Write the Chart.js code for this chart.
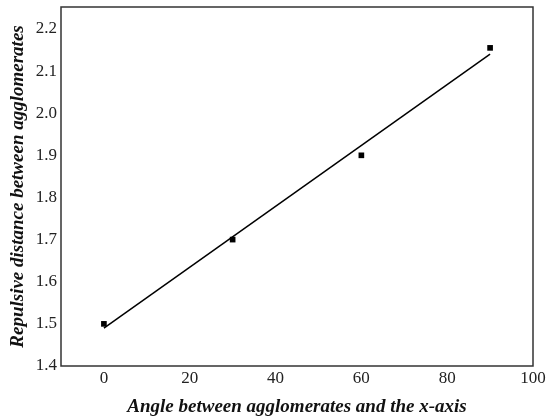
<!DOCTYPE html>
<html>
<head>
<meta charset="utf-8">
<script src="https://cdn.jsdelivr.net/npm/chart.js@4/dist/chart.umd.min.js"></script>
<style>
  html, body { margin: 0; padding: 0; background: #fff; }
  #wrap { width: 550px; height: 418px; }
</style>
</head>
<body>
<div id="wrap"><canvas id="chart"></canvas></div>
<script>
// measured points
const angles = [0, 30, 60, 90];
const distances = [1.5, 1.7, 1.9, 2.155];

// fitted line at both ends
const fitAngles = [0, 90];
const fitDistances = [1.49, 2.14];

const xTicks = [0, 20, 40, 60, 80, 100];
const yTicks = [1.4, 1.5, 1.6, 1.7, 1.8, 1.9, 2.0, 2.1, 2.2];

const serif = "'Liberation Serif', 'Times New Roman', serif";

// box round the plot area
const frame = {
    id: "frame",
    afterDraw(chart) {
        const a = chart.chartArea;
        const ctx = chart.ctx;
        ctx.save();
        ctx.strokeStyle = "#333";
        ctx.lineWidth = 1.5;
        ctx.strokeRect(a.left, a.top, a.right - a.left, a.bottom - a.top);
        ctx.restore();
    }
};

const ctx = document.getElementById("chart").getContext("2d");
new Chart(ctx, {
    type: "scatter",
    data: {
        datasets: [
            {
                label: "Data",
                data: angles.map((a, i) => ({ x: a, y: distances[i] })),
                pointStyle: "rect",
                pointRadius: 4,
                backgroundColor: "#000",
                borderColor: "#000",
                borderWidth: 0
            },
            {
                label: "Fit",
                data: fitAngles.map((a, i) => ({ x: a, y: fitDistances[i] })),
                showLine: true,
                pointRadius: 0,
                borderColor: "#000",
                borderWidth: 1.5
            }
        ]
    },
    options: {
        responsive: true,
        maintainAspectRatio: false,
        animation: false,
        layout: { padding: { left: 7, right: 17, top: 7, bottom: 0 } },
        plugins: {
            legend: { display: false },
            tooltip: { enabled: false }
        },
        scales: {
            x: {
                type: "linear",
                min: -10,
                max: 100,
                afterBuildTicks: s => { s.ticks = xTicks.map(v => ({ value: v })); },
                afterFit: s => { s.height = 52; },
                grid: { display: false, drawTicks: false, tickLength: 0 },
                border: { display: false },
                ticks: {
                    color: "#222",
                    padding: 2,
                    maxRotation: 0,
                    font: { family: serif, size: 17 }
                },
                title: {
                    display: true,
                    text: "Angle between agglomerates and the x-axis",
                    color: "#111",
                    padding: { top: 4, bottom: 0 },
                    font: { family: serif, size: 19, weight: "bold", style: "italic" }
                }
            },
            y: {
                type: "linear",
                min: 1.4,
                max: 2.252,
                afterBuildTicks: s => { s.ticks = yTicks.map(v => ({ value: v })); },
                afterFit: s => { s.width = 54; s.paddingTop = 0; s.paddingBottom = 0; },
                grid: { display: false, drawTicks: false, tickLength: 0 },
                border: { display: false },
                ticks: {
                    color: "#222",
                    padding: 4,
                    font: { family: serif, size: 17 },
                    callback: v => v.toFixed(1)
                },
                title: {
                    display: true,
                    text: "Repulsive distance between agglomerates",
                    color: "#111",
                    padding: { top: 0, bottom: 6 },
                    font: { family: serif, size: 19, weight: "bold", style: "italic" }
                }
            }
        }
    },
    plugins: [frame]
});
</script>
</body>
</html>
